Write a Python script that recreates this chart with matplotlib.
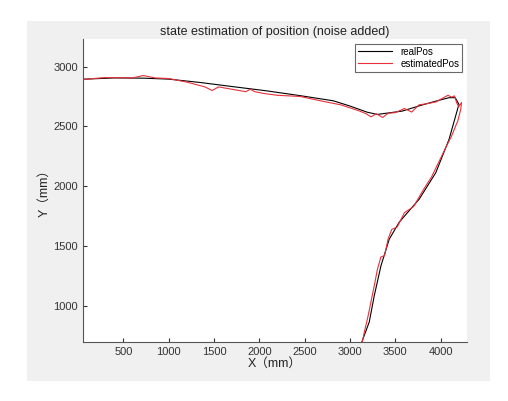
import matplotlib
matplotlib.use("Agg")
import matplotlib.pyplot as plt
from matplotlib.patches import Rectangle

plt.rcParams['font.family'] = ['Liberation Sans', 'Noto Sans CJK SC', 'DejaVu Sans']

real_x = [51, 400, 720, 1000, 1346, 1700, 2081, 2450, 2816, 3000, 3184, 3300, 3575, 3800, 3946, 4092, 4160, 4202, 4195, 4092, 3946, 3762, 3542, 3432, 3341, 3267, 3212, 3130]
real_y = [2894, 2905, 2903, 2895, 2867, 2833, 2797, 2757, 2714, 2670, 2620, 2600, 2628, 2680, 2711, 2740, 2740, 2683, 2669, 2392, 2114, 1892, 1700, 1558, 1336, 1086, 867, 700]

est_x = [51, 300, 600, 720, 850, 1000, 1200, 1400, 1480, 1550, 1700, 1850, 1900, 1950, 2050, 2200, 2450, 2700, 2900, 3100, 3180, 3230, 3290, 3360, 3420, 3500, 3600, 3680, 3760, 3850, 3950, 4030, 4080, 4120, 4150, 4180, 4200, 4230, 4220, 4190, 4120, 4060, 3990, 3900, 3800, 3700, 3600, 3520, 3460, 3420, 3380, 3340, 3300, 3270, 3240, 3200, 3160, 3135]
est_y = [2892, 2908, 2905, 2925, 2905, 2900, 2870, 2830, 2800, 2830, 2810, 2790, 2810, 2790, 2775, 2760, 2750, 2710, 2680, 2630, 2605, 2580, 2605, 2575, 2610, 2615, 2650, 2620, 2680, 2690, 2705, 2740, 2760, 2745, 2755, 2690, 2665, 2700, 2640, 2550, 2420, 2330, 2220, 2080, 1960, 1830, 1780, 1660, 1640, 1560, 1420, 1410, 1300, 1180, 1070, 920, 790, 700]

fig = plt.figure(figsize=(5.08, 4.01), dpi=100, facecolor='white')
fig.patches.append(Rectangle((27/508, 1 - 381/401), (490-27)/508, (381-21)/401,
                             transform=fig.transFigure, facecolor='#f0f0f0', edgecolor='none', zorder=-10))
ax = fig.add_axes([83/508, 1 - 342/401, (467-83)/508, (342-39)/401])
ax.set_zorder(5)
ax.set_facecolor('white')
ax.plot(real_x, real_y, color='black', lw=0.8, label='realPos')
ax.plot(est_x, est_y, color='#e8303a', lw=0.8, label='estimatedPos')
ax.set_xlim(55, 4290)
ax.set_ylim(700, 3230)
ax.set_xticks([500, 1000, 1500, 2000, 2500, 3000, 3500, 4000])
ax.set_yticks([1000, 1500, 2000, 2500, 3000])
for s in ['top', 'right']:
    ax.spines[s].set_visible(False)
for s in ['left', 'bottom']:
    ax.spines[s].set_color('#555555')
ax.tick_params(direction='in', labelsize=8, colors='#333333', length=3)
ax.set_title('state estimation of position (noise added)', fontsize=9, color='#222222', pad=3)
ax.set_xlabel('X（mm）', fontsize=9, color='#222222', labelpad=1)
ax.set_ylabel('Y（mm）', fontsize=9, color='#222222', labelpad=2)
leg = ax.legend(loc='upper right', fontsize=7, frameon=True, fancybox=False, handlelength=3.5,
                borderpad=0.3, labelspacing=0.2, edgecolor='#444444')
leg.get_frame().set_linewidth(0.8)
fig.savefig('out.png', dpi=100, facecolor='white')
